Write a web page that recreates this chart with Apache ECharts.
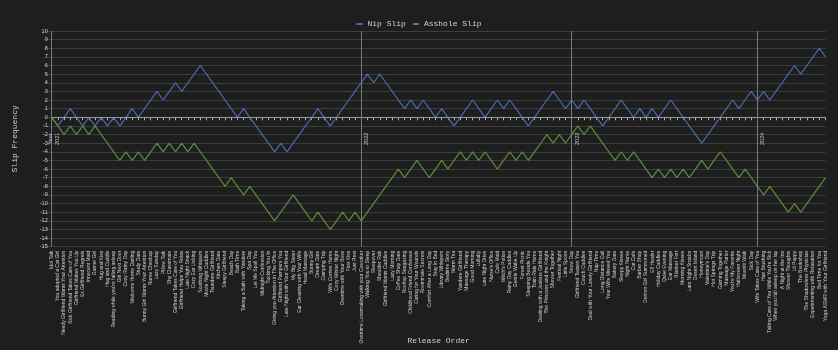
<!DOCTYPE html>
<html>
<head>
<meta charset="utf-8">
<script src="https://cdn.jsdelivr.net/npm/echarts@6/dist/echarts.min.js"></script>
<style>
html,body{margin:0;padding:0;background:#1e1e1e;}
#chart{width:838px;height:350px;}
</style>
</head>
<body>
<div id="chart"></div>
<script>
const categories = [
"Idol Talk","You adopted a Cat Girl","Needy Girlfriend Wants Your Attention","Sick Girlfriend Takes Care of You","Girlfriend Wakes You Up","Ex Girlfriend Regrets","Innocent Maid","Gamer Girl","Hug and Kiss","Hug and Cuddle",
"Reading while you're falling asleep","Girl Next Door","Cozy Rainy Day","Welcome Home Darling","Study Date","Bunny Girl Wants Your Attention","Nurse Checkup","Lazy Sunday","Pillow Talk","Shy Classmate",
"Girlfriend Takes Care of You","Girlfriend Helps You Relax","Late Night Snack","Cozy Ear Licking","Soothing Whispers","Movie Night Cuddles","Tsundere Girlfriend","Kitchen Date","Sleepy Girlfriend","Beach Day",
"Bath Time","Taking a Bath with Yandere","Spa Day","Let Me Spoil You","Midnight Confession","Tucking You In","Giving you Attention in The Office","Girlfriend Pampers You","Late Night with Your Girlfriend","My Big Sister",
"Ear Cleaning with Your Wife","Head Massage","Bunny Girl","Dream Date","Camping Trip","Wife Comes Home","Cozy Winter Night","Overtime with Your Boss","First Kiss","Just Rest",
"Overtime Lovemaking with your Coworker","Walking You to Sleep","Sleepover","Shoulder Rub","Girlfriend Wants Cuddles","Lazy Morning","Coffee Shop Date","Rooftop Stargazing","Childhood Friend Confesses","Caring for Your Wounds",
"Roommate Secrets","Comfort After a Long Day","Stay In Bed","Library Whispers","Bedtime Story","Warm Tea","Yandere Girlfriend","Massage Therapy","Good Morning","Lullaby",
"Late Night Drive","Nurse's Office","Cafe Maid","Witch's Potion","Rainy Day Cuddles","Gentle Wake Up","Forest Picnic","Sleeping Beside You","Train Ride Home","Dealing with a Jealous Girlfriend",
"The Princess and the Knight","Shower Together","Festival Night","Little Spoon","Snow Day","Girlfriend Teases You","Couch Cuddles","Deal with Your Lonely Girlfriend","Nap Time","Long Distance Call",
"Your Wife Missed You","Bakery Date","Sleepy Kisses","Night Nurse","Cat Cafe","Barber Shop","Demon Girl Summoned","Elf Healer","Holiday Cuddles","Quiet Evening",
"Ear Massage","Blanket Fort","Morning Kisses","Late Night Snacks","Desert Island","Honeymoon","Valentine's Day","Hot Springs Trip","Gaming Together","Massage Parlor",
"You're My Favorite","Halloween Night","Moonlit Walk","Sick Day","Wife Takes Care of You","Hair Brushing","Taking Care of You While You're Sick","When you fall asleep on her lap","A Night at the Inn","Shower Thoughts",
"Lil Puppy","The Bookshop","The Shadowless Physician","Experimenting with Relaxation","Bed Time for You","Yoga ASMR with Your Girlfriend"
];

const nipSlip = [
0,-1,0,1,0,-1,0,-1,0,-1, 0,-1,0,1,0,1,2,3,2,3, 4,3,4,5,6,5,4,3,2,1, 0,1,0,-1,-2,-3,-4,-3,-4,-3,
-2,-1,0,1,0,-1,0,1,2,3, 4,5,4,5,4,3,2,1,2,1, 2,1,0,1,0,-1,0,1,2,1, 0,1,2,1,2,1,0,-1,0,1,
2,3,2,1,2,1,2,1,0,-1, 0,1,2,1,0,1,0,1,0,1, 2,1,0,-1,-2,-3,-2,-1,0,1, 2,1,2,3,2,3,2,3,4,5,
6,5,6,7,8,7
];

const assholeSlip = [
0,-1,-2,-1,-2,-1,-2,-1,-2,-3, -4,-5,-4,-5,-4,-5,-4,-3,-4,-3, -4,-3,-4,-3,-4,-5,-6,-7,-8,-7, -8,-9,-8,-9,-10,-11,-12,-11,-10,-9,
-10,-11,-12,-11,-12,-13,-12,-11,-12,-11, -12,-11,-10,-9,-8,-7,-6,-7,-6,-5, -6,-7,-6,-5,-6,-5,-4,-5,-4,-5, -4,-5,-6,-5,-4,-5,-4,-5,-4,-3,
-2,-3,-2,-3,-2,-1,-2,-1,-2,-3, -4,-5,-4,-5,-4,-5,-6,-7,-6,-7, -6,-7,-6,-7,-6,-5,-6,-5,-4,-5, -6,-7,-6,-7,-8,-9,-8,-9,-10,-11,
-10,-11,-10,-9,-8,-7
];

const yearIndex = [0, 50, 84, 114];
const yearLabels = ["Year\n2021", "2022", "2023", "2024"];

const yMin = -15, yMax = 10, yStep = 1;

const chart = echarts.init(document.getElementById('chart'), null, {renderer: 'canvas'});

const mono = "'Liberation Mono', 'DejaVu Sans Mono', monospace";
const sans = "'Liberation Sans', Arial, sans-serif";

const yearMarks = yearIndex.map((idx, k) => ({
  xAxis: categories[idx],
  lineStyle: {color: '#7a7a7a', width: 1, type: 'solid'},
  label: {
    show: true,
    formatter: yearLabels[k],
    position: 'insideMiddleBottom',
    color: '#c8c8c8',
    fontSize: 5.5,
    fontFamily: sans,
    distance: k === 0 ? -4.5 : 2,
    lineHeight: 7
  }
}));

chart.setOption({
  backgroundColor: '#1e1e1e',
  animation: false,
  legend: {
    top: 15,
    left: 'center',
    itemWidth: 6,
    itemHeight: 2,
    itemGap: 7,
    icon: 'rect',
    textStyle: {color: '#cfcfcf', fontSize: 8, fontFamily: mono},
    data: ['Nip Slip', 'Asshole Slip']
  },
  grid: {left: 51.7, right: 12.5, top: 31, bottom: 103.3, containLabel: false, outerBoundsMode: 'none'},
  xAxis: {
    type: 'category',
    data: categories,
    boundaryGap: false,
    name: 'Release Order',
    nameLocation: 'middle',
    nameGap: 90,
    nameMoveOverlap: false,
    nameTextStyle: {color: '#cfcfcf', fontSize: 8, fontFamily: mono},
    axisLine: {show: true, lineStyle: {color: '#b0b0b0', width: 1}},
    axisTick: {show: true, length: 3, interval: 0, lineStyle: {color: '#b0b0b0'}},
    axisLabel: {interval: 0, rotate: 90, fontSize: 5, color: '#cfcfcf', fontFamily: sans, margin: 4},
    splitLine: {show: false}
  },
  yAxis: {
    type: 'value',
    min: yMin,
    max: yMax,
    interval: yStep,
    name: 'Slip Frequency',
    nameLocation: 'middle',
    nameGap: 33,
    nameRotate: 90,
    nameMoveOverlap: false,
    nameTextStyle: {color: '#cfcfcf', fontSize: 8, fontFamily: mono},
    axisLine: {show: false},
    axisTick: {show: true, length: 8, lineStyle: {color: '#3c3c3c'}},
    axisLabel: {fontSize: 5.5, color: '#cfcfcf', fontFamily: sans, margin: 4},
    splitLine: {show: true, lineStyle: {color: '#3c3c3c', width: 1}}
  },
  series: [
    {
      name: 'Nip Slip',
      type: 'line',
      data: nipSlip,
      symbol: 'none',
      color: '#4a6ca8',
      lineStyle: {width: 1.2, color: '#4a6ca8'},
      z: 3,
      markLine: {
        silent: true,
        symbol: 'none',
        animation: false,
        data: [
          {yAxis: 0, lineStyle: {color: '#9a9a9a', width: 1, type: 'solid'}, label: {show: false}}
        ].concat(yearMarks)
      }
    },
    {
      name: 'Asshole Slip',
      type: 'line',
      data: assholeSlip,
      symbol: 'none',
      color: '#5b8c3c',
      lineStyle: {width: 1.2, color: '#5b8c3c'},
      z: 3
    }
  ]
});
</script>
</body>
</html>
